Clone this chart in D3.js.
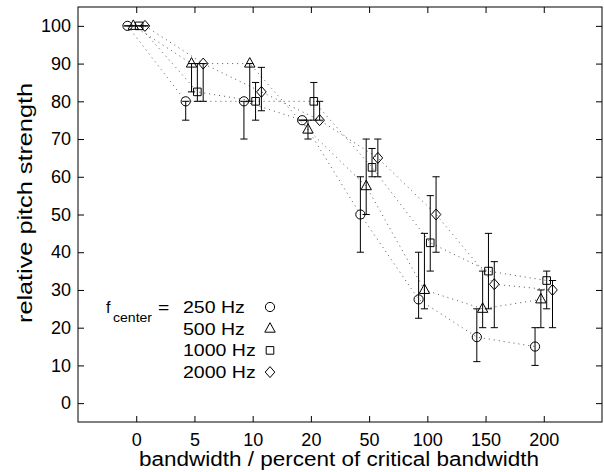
<!DOCTYPE html>
<html>
<head>
<meta charset="utf-8">
<script src="https://cdn.jsdelivr.net/npm/d3@7"></script>
<style>
  html, body { margin: 0; padding: 0; background: #fff; }
  svg { display: block; font-family: "Liberation Sans", Arial, Helvetica, sans-serif; }
</style>
</head>
<body>
<svg id="chart" width="604" height="472"></svg>
<script>
// ---- data ----
const categories = ["0", "5", "10", "20", "50", "100", "150", "200"];
const seriesNames = ["250 Hz", "500 Hz", "1000 Hz", "2000 Hz"];
const yTicks = [0, 10, 20, 30, 40, 50, 60, 70, 80, 90, 100];

const v250  = [100, 80,   80,   75,   50,   27.5, 17.5, 15];
const lo250 = [100, 75,   70,   75,   40,   22.5, 11,   10];
const hi250 = [100, 80,   80,   75,   60,   40,   25,   20];

const v500  = [100, 90,   90,   72.5, 57.5, 30,   25,   27.5];
const lo500 = [100, 82.5, 80,   70,   50,   25,   20,   20];
const hi500 = [100, 90,   90,   75,   70,   45,   35,   30];

const v1000  = [100, 82.5, 80,  80,   62.5, 42.5, 35,   32.5];
const lo1000 = [100, 80,   75,  75,   60,   35,   25,   25];
const hi1000 = [100, 90,   85,  85,   67.5, 55,   45,   35];

const v2000  = [100, 90,   82.5, 75,  65,   50,   31.5, 30];
const lo2000 = [100, 80,   77.5, 75,  60,   40,   20,   20];
const hi2000 = [100, 90,   89,   80,  70,   60,   37.5, 32.5];

const series = [
  {name: seriesNames[0], v: v250,  lo: lo250,  hi: hi250,  marker: "circle",   off: -0.15},
  {name: seriesNames[1], v: v500,  lo: lo500,  hi: hi500,  marker: "triangle", off: -0.05},
  {name: seriesNames[2], v: v1000, lo: lo1000, hi: hi1000, marker: "square",   off: 0.05},
  {name: seriesNames[3], v: v2000, lo: lo2000, hi: hi2000, marker: "diamond",  off: 0.15}
];

// ---- layout ----
const svg = d3.select("#chart");
const L = 78, R = 602, T = 7, B = 422;
const x = d3.scaleLinear().domain([-1, 8]).range([L, R]);
const y = d3.scaleLinear().domain([-5, 105]).range([B, T]);
const font = 18;

function markerPath(type, cx, cy) {
  const p = d3.path();
  if (type === "circle") {
    p.moveTo(cx + 4.6, cy); p.arc(cx, cy, 4.6, 0, 2 * Math.PI);
  } else if (type === "triangle") {
    p.moveTo(cx, cy - 6); p.lineTo(cx + 5.2, cy + 3.5); p.lineTo(cx - 5.2, cy + 3.5); p.closePath();
  } else if (type === "square") {
    p.rect(cx - 3.8, cy - 3.8, 7.6, 7.6);
  } else {
    p.moveTo(cx, cy - 5.5); p.lineTo(cx + 4.8, cy); p.lineTo(cx, cy + 5.5); p.lineTo(cx - 4.8, cy); p.closePath();
  }
  return p.toString();
}

// stretch text horizontally by a factor (keeps it real text)
function stretch(sel, factor) {
  sel.each(function () {
    const w = this.getComputedTextLength();
    d3.select(this).attr("textLength", w * factor).attr("lengthAdjust", "spacingAndGlyphs");
  });
}

// frame
svg.append("rect").attr("x", L).attr("y", T).attr("width", R - L).attr("height", B - T)
  .attr("fill", "none").attr("stroke", "#000").attr("stroke-width", 1);

// axes (ticks inward)
const idx = d3.range(categories.length);
const xb = d3.axisBottom(x).tickValues(idx).tickFormat(i => categories[i]).tickSizeInner(-6).tickSizeOuter(0).tickPadding(11);
const xt = d3.axisTop(x).tickValues(idx).tickFormat("").tickSizeInner(-6).tickSizeOuter(0);
const yl = d3.axisLeft(y).tickValues(yTicks).tickSizeInner(-6).tickSizeOuter(0).tickPadding(7);
const yr = d3.axisRight(y).tickValues(yTicks).tickFormat("").tickSizeInner(-6).tickSizeOuter(0);

function styleAxis(g) {
  g.select(".domain").remove();
  g.selectAll("line").attr("stroke", "#000");
  g.selectAll("text").attr("fill", "#000").style("font-size", font + "px")
    .style("font-family", '"Liberation Sans", Arial, Helvetica, sans-serif');
}
svg.append("g").attr("transform", `translate(0,${B})`).call(xb).call(styleAxis);
svg.append("g").attr("transform", `translate(0,${T})`).call(xt).call(styleAxis);
svg.append("g").attr("transform", `translate(${L},0)`).call(yl).call(styleAxis);
svg.append("g").attr("transform", `translate(${R},0)`).call(yr).call(styleAxis);

// dotted connecting lines
const line = d3.line().x(d => x(d.i)).y(d => y(d.v));
series.forEach(s => {
  const pts = s.v.map((v, i) => ({i: i + s.off, v}));
  svg.append("path").attr("d", line(pts)).attr("fill", "none")
    .attr("stroke", "#555").attr("stroke-width", 1).attr("stroke-dasharray", "1,4");
});

// error bars
const cap = 3.6;
series.forEach(s => {
  const g = svg.append("g").attr("stroke", "#000").attr("stroke-width", 1);
  s.v.forEach((v, i) => {
    const cx = x(i + s.off);
    g.append("line").attr("x1", cx).attr("x2", cx).attr("y1", y(s.lo[i])).attr("y2", y(s.hi[i]));
    g.append("line").attr("x1", cx - cap).attr("x2", cx + cap).attr("y1", y(s.lo[i])).attr("y2", y(s.lo[i]));
    g.append("line").attr("x1", cx - cap).attr("x2", cx + cap).attr("y1", y(s.hi[i])).attr("y2", y(s.hi[i]));
  });
});

// markers
series.forEach(s => {
  s.v.forEach((v, i) => {
    svg.append("path").attr("d", markerPath(s.marker, x(i + s.off), y(v)))
      .attr("fill", "none").attr("stroke", "#000").attr("stroke-width", 1);
  });
});

// legend
const lg = svg.append("g").attr("fill", "#000");
lg.append("text").attr("x", 106).attr("y", 313).style("font-size", "16px").text("f");
lg.append("text").attr("x", 113).attr("y", 321.5).style("font-size", "13px").text("center").call(stretch, 1.08);
lg.append("text").attr("x", 158).attr("y", 313).style("font-size", "16px").text("=").call(stretch, 1.2);
series.forEach((s, k) => {
  const by = 313 + k * 21.7;
  lg.append("text").attr("x", 183).attr("y", by).style("font-size", "16px").text(s.name).call(stretch, 1.22);
  lg.append("path").attr("d", markerPath(s.marker, 270, by - 6))
    .attr("fill", "none").attr("stroke", "#000").attr("stroke-width", 1);
});

// axis labels
svg.append("text").attr("x", 339).attr("y", 466).attr("text-anchor", "middle")
  .style("font-size", "20px").text("bandwidth / percent of critical bandwidth")
  .attr("textLength", 400).attr("lengthAdjust", "spacingAndGlyphs");
svg.append("text").attr("transform", "translate(32,203) rotate(-90)").attr("text-anchor", "middle")
  .style("font-size", "20px").text("relative pitch strength")
  .attr("textLength", 240).attr("lengthAdjust", "spacingAndGlyphs");
</script>
</body>
</html>
